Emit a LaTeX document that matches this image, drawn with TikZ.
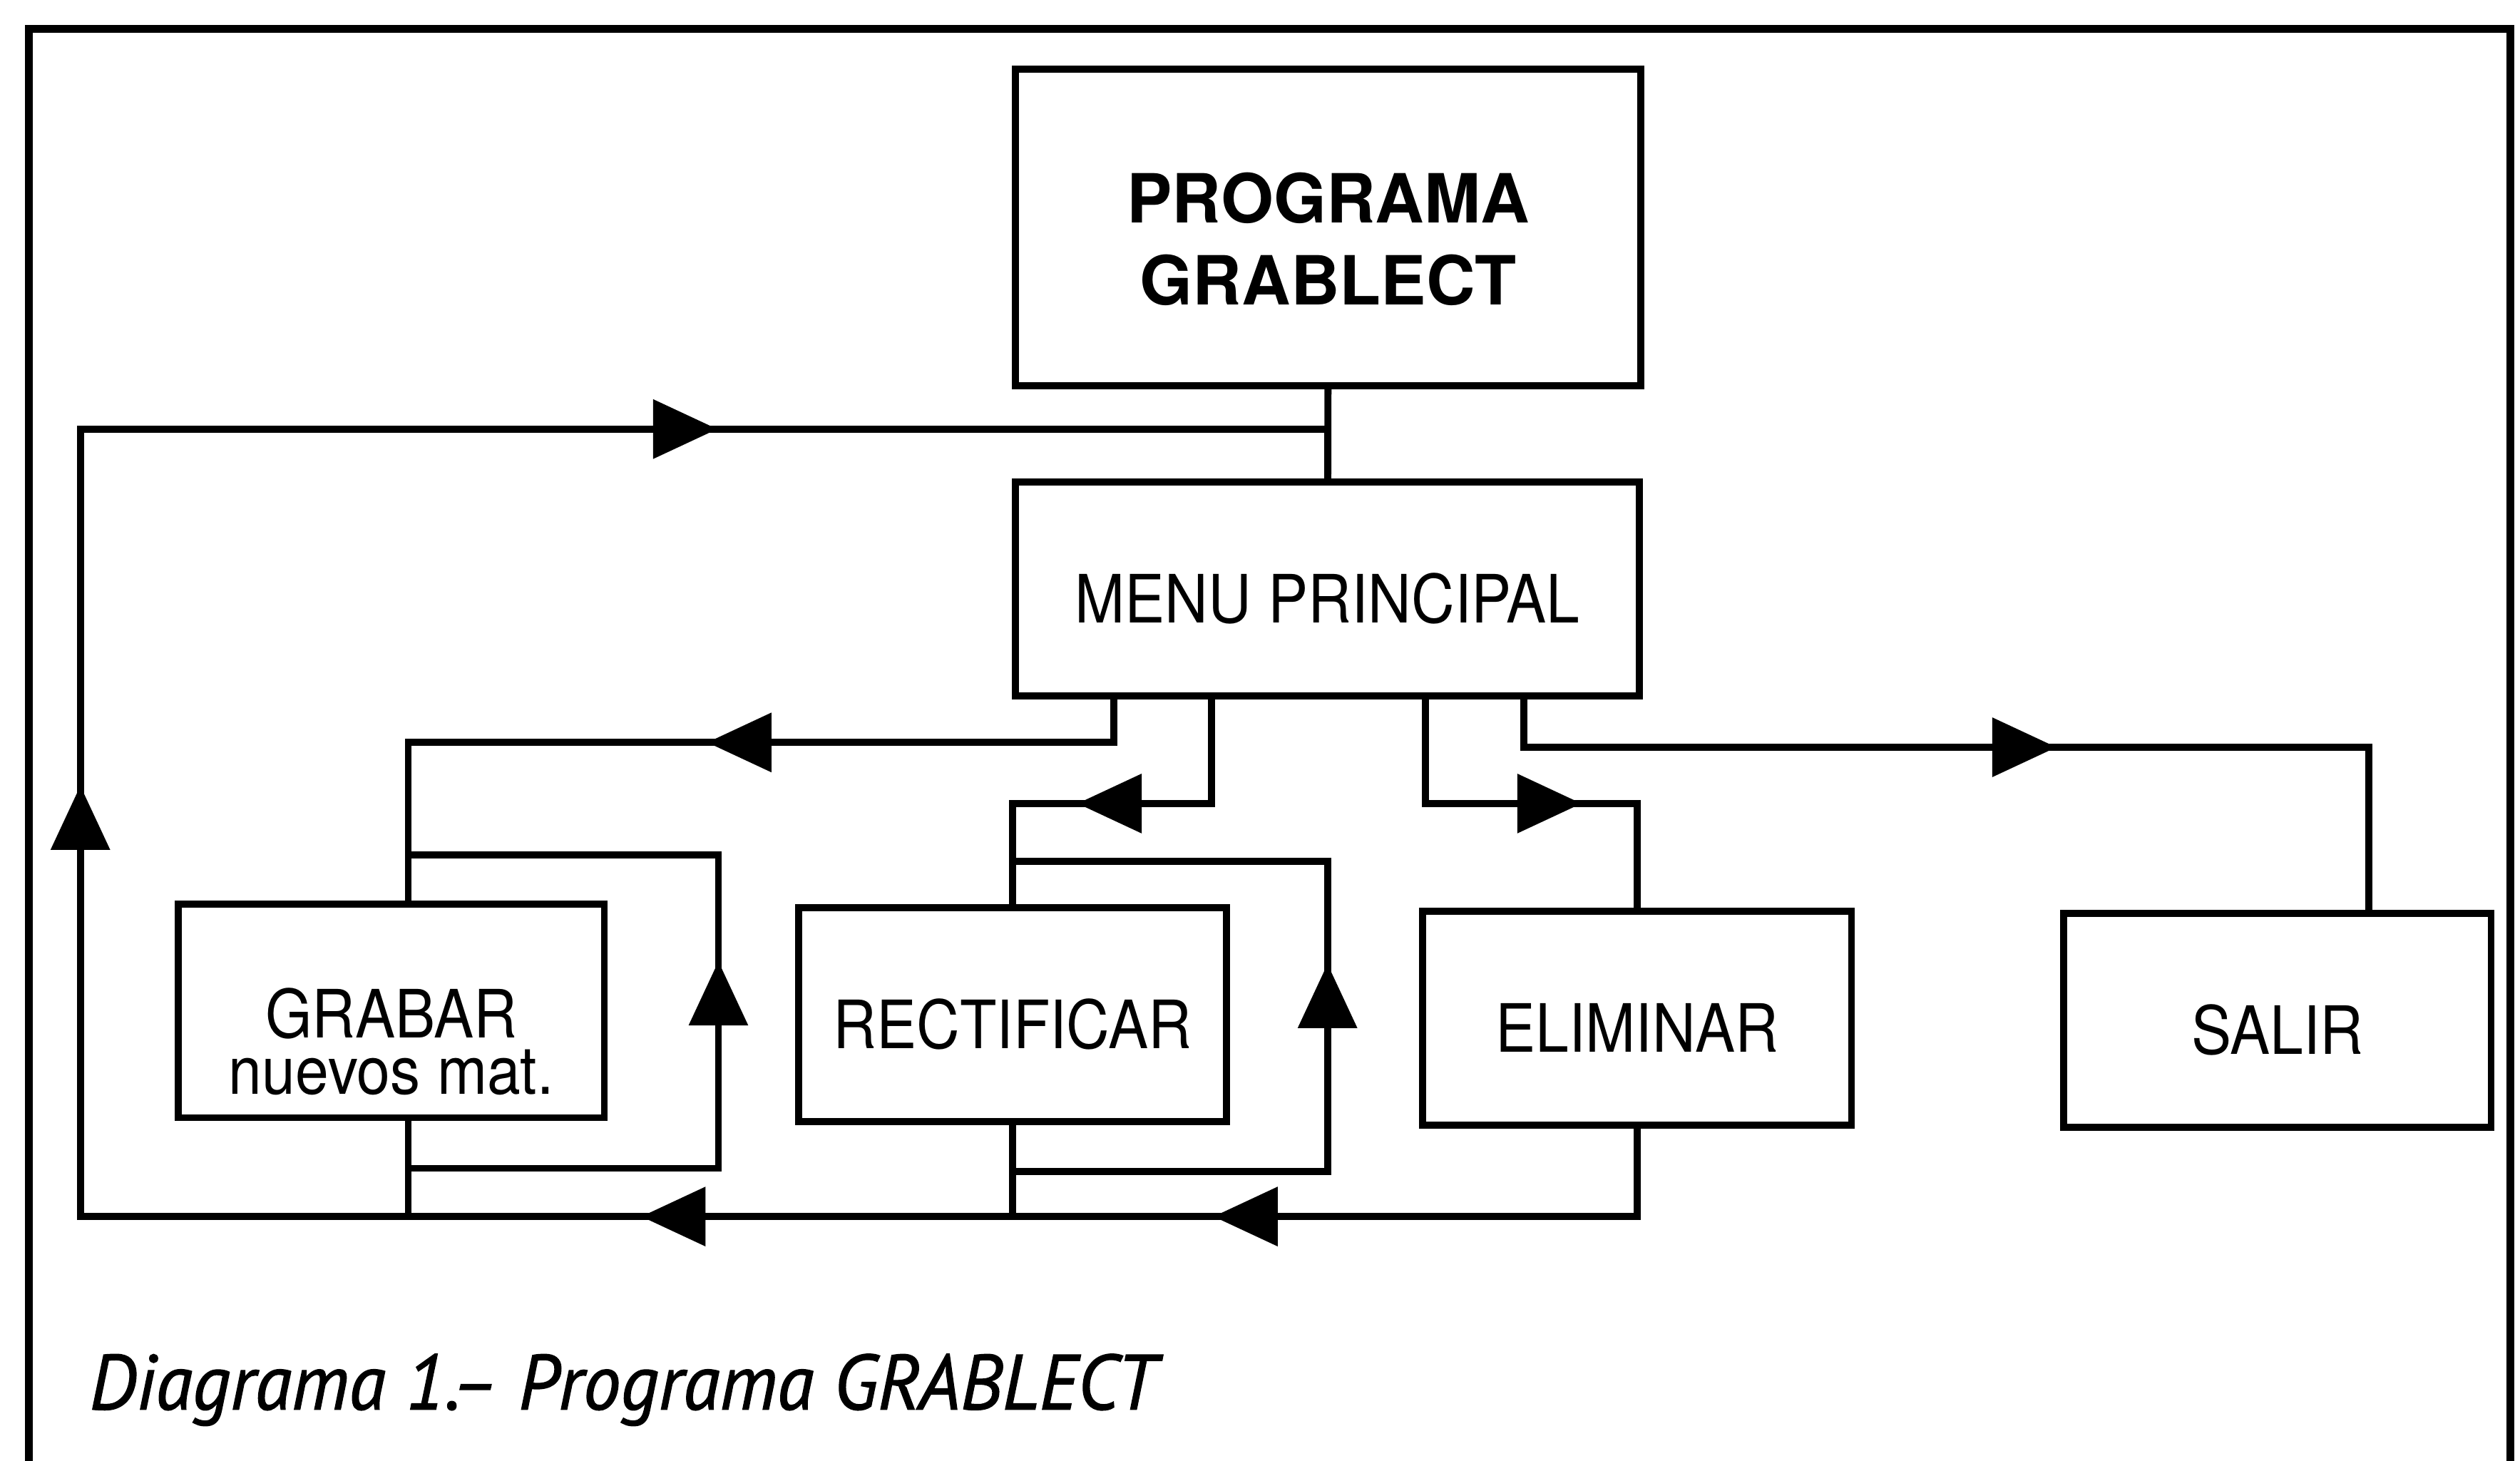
\documentclass[tikz,border=0pt]{standalone}
\usepackage{fontspec}
\usetikzlibrary{arrows.meta}
\usetikzlibrary{decorations.markings}

\newfontfamily\helv{TeX Gyre Heros}
\newfontfamily\helvn[FakeStretch=0.9]{TeX Gyre Heros}
\newfontfamily\pie[FakeStretch=0.965, FakeBold=1.2]{PT Sans}

\tikzset{
  caja/.style={draw, line width=1.25pt, minimum width=2.66cm, minimum height=1.33cm,
    inner sep=0pt, align=center, text height=12pt, text depth=0pt,
    font=\helvn\fontsize{11.8}{10}\selectfont},
  linea/.style={line width=1.25pt},
  flecha/.style={postaction={decorate, decoration={markings,
    mark=at position #1 with {\arrow{Triangle[length=4mm,width=3.6mm]}}}}}
}

\begin{document}
\begin{tikzpicture}
			\useasboundingbox (0,0) rectangle (15.68,9.09);
			% marco, abierto por abajo
			\draw [line width=1.3pt] (0.18,0) -- (0.18,8.91) -- (15.62,8.91) -- (15.62,0);

			\node [caja, minimum width=3.89cm, minimum height=1.97cm, text height=27.3pt,
				font=\helv\bfseries\fontsize{12}{14.5}\selectfont] (prog) at (8.265,7.675) {PROGRAMA\\GRABLECT};
			\node [caja, minimum width=3.88cm] (menu) at (8.26,5.425) {MENU PRINCIPAL};
			\node [caja, minimum width=2.65cm, text height=29.5pt] (grabar) at (2.435,2.80) {GRABAR\\nuevos mat.};
			\node [caja] (rect) at (6.30,2.775) {RECTIFICAR};
			\node [caja, minimum width=2.67cm] (elim) at (10.185,2.755) {ELIMINAR};
			\node [caja] (salir) at (14.17,2.74) {SALIR};

			\node [anchor=base west, inner sep=0pt, font=\pie\itshape\fontsize{13.8}{16}\selectfont] (titulo) at (0.55,0.32) {Diagrama 1.– Programa GRABLECT};

			% puntos de paso
			\coordinate (abajo) at (0.50,1.52);
			\coordinate (arriba) at (0.50,6.42);
			\coordinate (gA) at (2.54,4.47);
			\coordinate (gB) at (4.47,3.77);
			\coordinate (gC) at (4.47,1.82);
			\coordinate (rB) at (8.26,3.73);
			\coordinate (rC) at (8.26,1.80);
			\coordinate (mA) at (6.93,4.47);
			\coordinate (mB) at (7.54,4.09);
			\coordinate (mC) at (8.87,4.09);
			\coordinate (mD) at (9.48,4.44);
			\coordinate (sD) at (14.74,4.44);

			\draw [linea] (prog) -- (menu);

			% salidas del menu
			\draw [linea, flecha=0.496] (menu.south -| mA) |- (gA) -- (gA |- grabar.north);
			\draw [linea, flecha=0.59] (menu.south -| mB) |- (rect.north |- mB) -- (rect.north);
			\draw [linea, flecha=0.62] (menu.south -| mC) |- (elim.north |- mC) -- (elim.north);
			\draw [linea, flecha=0.55] (menu.south -| mD) |- (sD) -- (sD |- salir.north);

			% lazos propios
			\draw [linea, flecha=0.554] (gA |- gC) -| (gB) -- (gA |- gB);
			\draw [linea, flecha=0.556] (rect.south |- rC) -| (rB) -- (rect.north |- rB);

			% vuelta al menu
			\draw [linea] (gA |- grabar.south) -- (gA |- abajo);
			\draw [linea] (rect.south) -- (rect.south |- abajo);
			\draw [linea, flecha=0.139, flecha=0.2945, flecha=0.564, flecha=0.834]
				(elim.south) |- (abajo) |- (prog.south |- arriba);
	\end{tikzpicture}
\end{document}
